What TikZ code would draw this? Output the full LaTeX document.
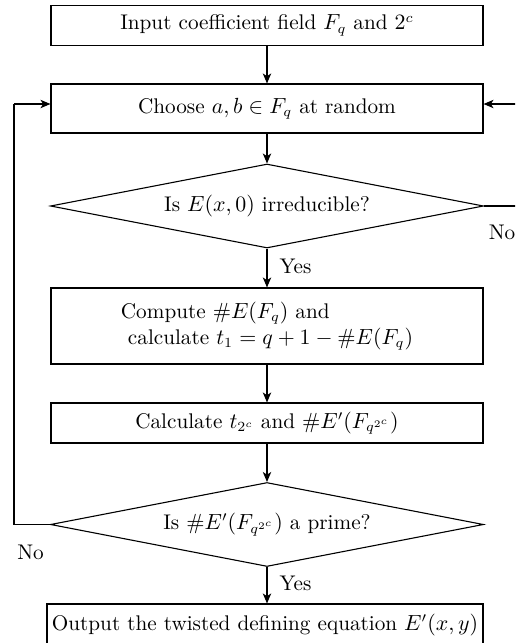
\documentclass[tikz,border=0pt]{standalone}
\usepackage{amssymb,amsmath}
\usetikzlibrary{arrows.meta, shapes.geometric}

\tikzset{
  block/.style={draw, rectangle, minimum width=216pt, minimum height=20pt, inner sep=2pt},
  decision/.style={draw, diamond, shape aspect=5, minimum width=216.5pt, minimum height=42pt, inner sep=0pt},
  lbl/.style={inner sep=1pt}
}

\begin{document}
\begin{tikzpicture}[x=0.5pt, y=-0.5pt, line width=0.55pt, >={Stealth[length=5pt,width=4.2pt,inset=1.4pt]},
  font=\fontsize{10.6pt}{13pt}\selectfont]
\useasboundingbox (0,0) rectangle (515,643);
\clip (0,0) rectangle (515,643);

\node[block] (input) at (267,25.5) {Input coefficient field $F_q$ and $2^c$};
\node[block, minimum height=24.5pt] (choose) at (267,108.5) {Choose $a,b\in F_q$ at random};
\node[decision] (irred) at (267,206) {Is $E(x,0)$ irreducible?};
\node[block, minimum height=38pt, align=left] (count) at (267,326)
  {Compute $\#E(F_q)$ and\\ \ calculate $t_1=q+1-\#E(F_q)$};
\node[block] (twist) at (267,423) {Calculate $t_{2^c}$ and $\#E'(F_{q^{2^c}})$};
\node[decision] (prime) at (267,524.5) {Is $\#E'(F_{q^{2^c}})$ a prime?};
\node[block, minimum width=218pt, minimum height=21pt] (output) at (265,625) {Output the twisted defining equation $E'(x,y)$};

\coordinate (rtop) at (522,104);
\coordinate (ltop) at (14,104);

\draw[->] (input) -- (choose);
\draw[->] (choose) -- (irred);
\draw[->] (irred) -- node[right, lbl, pos=0.45, xshift=5pt] {Yes} (count);
\draw[->] (count) -- (twist);
\draw[->] (twist) -- (prime);
\draw[->] (prime) -- node[right, lbl, pos=0.45, xshift=5pt] {Yes} (prime |- output.north);

% loops back to choosing a, b
\draw (irred.east) -- (rtop |- irred.east) -- (rtop);
\draw[->] (rtop) -- (choose.east |- rtop);
\draw (prime.west) -- (ltop |- prime.west) -- (ltop);
\draw[->] (ltop) -- (choose.west |- ltop);
\node[lbl] (no1) at (502,232) {No};
\node[lbl] (no2) at (30.5,552) {No};
\end{tikzpicture}
\end{document}
